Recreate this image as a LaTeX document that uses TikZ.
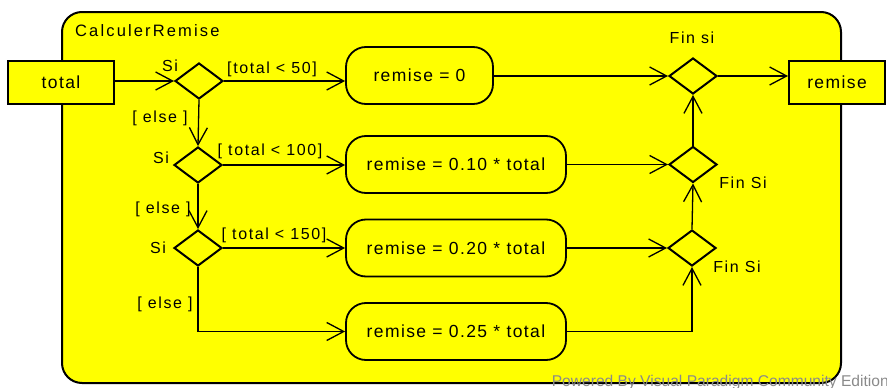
\documentclass[tikz,border=0pt]{standalone}
\usepackage{fontspec}
\setmainfont{Liberation Sans}
\newfontfamily\titlefont{Liberation Sans}[LetterSpace=13]
\newfontfamily\boxfont{Liberation Sans}[LetterSpace=8]
\newfontfamily\guardfont{Liberation Sans}[LetterSpace=10]
\usetikzlibrary{arrows.meta,shapes.geometric}
\definecolor{vpyellow}{HTML}{FFFF00}
\definecolor{vpgray}{HTML}{8A8A8A}
\begin{document}
\begin{tikzpicture}[x=1pt,y=-1pt,
  every node/.style={font=\boxfont\fontsize{17.5}{19}\selectfont},
  pinbox/.style={draw,line width=2pt,fill=vpyellow,minimum width=106pt,minimum height=43pt,inner sep=0pt},
  actbox/.style={draw,line width=1.8pt,fill=vpyellow,rounded corners=20pt,minimum height=57pt,inner sep=0pt},
  gate/.style={draw,line width=2pt,fill=vpyellow,diamond,minimum width=48pt,minimum height=36pt,inner sep=0pt,aspect=1.33},
  flow/.style={line width=1.3pt,-{Straight Barb[length=17pt,width=18pt,line width=1.3pt]}},
  lbl/.style={font=\guardfont\fontsize{16}{18}\selectfont,inner sep=0pt}
]
\useasboundingbox (0,0) rectangle (887,388);

% activity frame
\draw[line width=2pt,fill=vpyellow,rounded corners=20pt] (62,12) rectangle (841,383);
\node[anchor=west,inner sep=0pt,font=\titlefont\fontsize{16.5}{18}\selectfont] (title) at (75,31) {CalculerRemise};

% parameter pins
\node[pinbox] (total) at (61,82.5) {total};
\node[pinbox,minimum width=96pt] (remise) at (837,82.5) {remise};

% decision nodes
\node[gate] (d1) at (199,81) {};
\node[gate] (d2) at (198,165) {};
\node[gate] (d3) at (198,248) {};

% actions
\node[actbox,minimum width=147pt] (r0) at (419.5,75.5) {remise = 0};
\node[actbox,minimum width=220pt] (r10) at (456,164.5) {remise = 0.10 * total};
\node[actbox,minimum width=220pt] (r20) at (456,248) {remise = 0.20 * total};
\node[actbox,minimum width=220pt] (r25) at (456,331.5) {remise = 0.25 * total};

% merge nodes
\node[gate] (m1) at (693,76) {};
\node[gate] (m2) at (693,164.5) {};
\node[gate] (m3) at (692,248) {};

% flows
\draw[flow] (total.east |- d1.west) -- (d1.west);
\draw[flow] (d1.east) -- (d1.east -| r0.west);
\draw[flow] (r0.east |- m1.west) -- (m1.west);
\draw[flow] (m1.east) -- (m1.east -| remise.west);

\draw[flow] (d1.south) -- (d2.north);
\draw[flow] (d2.east) -- (d2.east -| r10.west);
\draw[flow] (r10.east |- m2.west) -- (m2.west);

\draw[flow] (d2.south) -- (d3.north);
\draw[flow] (d3.east) -- (d3.east -| r20.west);
\draw[flow] (r20.east |- m3.west) -- (m3.west);

\draw[flow] (d3.south) |- (r25.west);
\draw[flow] (r25.east) -| (m3.south);

\draw[flow] (m3.north) -- (m2.south);
\draw[flow] (m2.north) -- (m1.south);

% guards and names
\node[lbl] (si1) at (170,66) {Si};
\node[lbl] (g1) at (272,69) {[total < 50]};
\node[lbl] (e1) at (160,118) {[ else ]};
\node[lbl] (si2) at (161,158) {Si};
\node[lbl] (g2) at (270,151) {[ total < 100]};
\node[lbl] (e2) at (163,209) {[ else ]};
\node[lbl] (si3) at (158,248) {Si};
\node[lbl] (g3) at (274,235) {[ total < 150]};
\node[lbl] (e3) at (165,304) {[ else ]};
\node[lbl] (f1) at (692,38) {Fin si};
\node[lbl] (f2) at (743,183) {Fin Si};
\node[lbl] (f3) at (737,267) {Fin Si};

% footer
\node[anchor=east,inner sep=0pt,text=vpgray,font=\fontsize{15.6}{17}\selectfont] (foot) at (889,382) {Powered By Visual Paradigm Community Edition};
\end{tikzpicture}
\end{document}
